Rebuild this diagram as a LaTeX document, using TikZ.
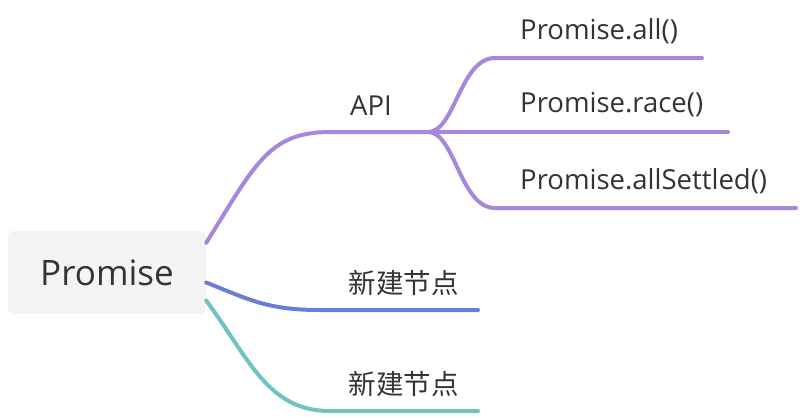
\documentclass[tikz,border=0pt]{standalone}
\usepackage{fontspec}
\setmainfont{Open Sans}
\newfontfamily\cjk{Noto Sans CJK SC}
\definecolor{apipurple}{RGB}{167,135,220}
\definecolor{newblue}{RGB}{108,125,214}
\definecolor{newteal}{RGB}{110,196,192}
\definecolor{rootgray}{RGB}{244,244,244}
\definecolor{textgray}{RGB}{51,51,51}
\begin{document}
\begin{tikzpicture}[x=1pt, y=-1pt, line cap=round,
root node/.style={rectangle,rounded corners=6pt,fill=rootgray,minimum width=198pt,minimum height=83pt,inner sep=0pt,text=textgray,font=\fontsize{35}{42}\selectfont},
leaf node/.style={inner sep=0pt,text=textgray,font=\fontsize{27.5}{33}\selectfont},
branch/.style={line width=4pt}]
\useasboundingbox (0,0) rectangle (802,416);
% nodes
\node[root node] (root) at (107,272.5) {Promise};
\begin{scope}[every node/.style={leaf node}]
\node (api) at (371,106) {API};
\node[anchor=west] (all) at (520,31) {Promise.all()};
\node[anchor=west] (race) at (520,105) {Promise.race()};
\node[anchor=west] (settled) at (520,181) {Promise.allSettled()};
\node (new1) at (403.5,283) {\cjk 新建节点};
\node (new2) at (403.5,384) {\cjk 新建节点};
\end{scope}
% line ends
\coordinate (fork) at (428,132);
\coordinate (allend) at (702,58);
\coordinate (raceend) at (728,132);
\coordinate (settledend) at (796,208);
\coordinate (new1end) at (478,310);
\coordinate (new2end) at (478,411);
% branches
\begin{scope}[every path/.style={branch}]
\draw[apipurple] ([yshift=-12pt]root.north east) .. controls (255,165) and (268,132) .. (330,132) -- (fork);
\draw[apipurple] (fork) .. controls (455,132) and (460,58) .. (495,58) -- (allend);
\draw[apipurple] (fork) -- (raceend);
\draw[apipurple] (fork) .. controls (455,132) and (460,208) .. (495,208) -- (settledend);
\draw[newblue] ([yshift=-10pt]root.east) .. controls (250,300) and (268,310) .. (320,310) -- (new1end);
\draw[newteal] ([yshift=-28pt]root.east) .. controls (250,360) and (268,411) .. (330,411) -- (new2end);
\end{scope}
\end{tikzpicture}
\end{document}
